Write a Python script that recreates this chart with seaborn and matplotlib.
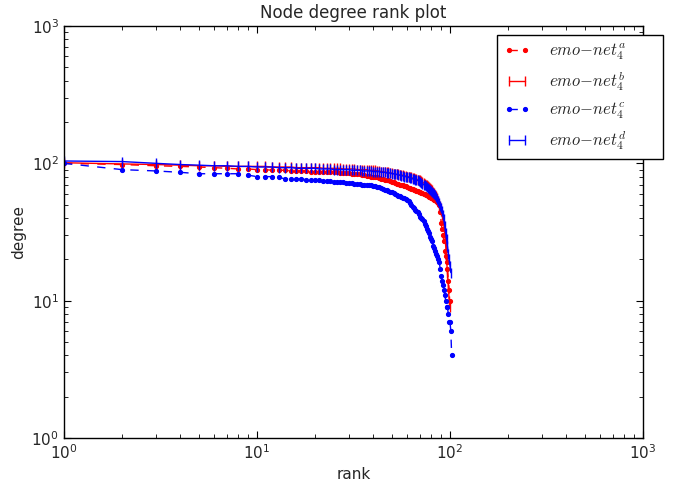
import numpy as np
import pandas as pd
import matplotlib
matplotlib.use("Agg")
import matplotlib.pyplot as plt
import seaborn as sns

# degree sequences sorted by rank
deg_a = [100, 98, 96, 95, 94, 93, 92, 91, 91, 90,
         90, 89, 89, 89, 88, 88, 88, 88, 87, 87,
         87, 87, 86, 86, 86, 86, 85, 85, 85, 85,
         84, 84, 83, 83, 82, 82, 81, 81, 80, 80, 79, 79, 78,
         77, 77, 76, 75, 75, 74, 73, 73, 72, 71, 71, 70,
         69, 69, 68, 68, 67, 66, 66, 65, 65, 64, 64, 63, 63, 62, 62,
         61, 61, 60, 60, 59, 59, 58, 57, 57, 56, 56,
         55, 54, 54, 53, 52, 51,
         50, 44, 37, 33, 30, 27, 23, 21, 19, 17, 14, 12, 10]
deg_b = [101, 99, 98, 97, 96, 96, 95, 95, 95, 95,
         95, 94, 94, 94, 94, 93, 93, 93, 93, 93,
         93, 92, 92, 92, 92, 92, 92, 91, 91, 91,
         91, 91, 90, 90, 90, 90, 90, 89, 89, 89, 89, 88, 88,
         87, 87, 86, 86, 86, 85, 85, 84, 84, 83, 83, 82,
         82, 82, 81, 81, 80, 80, 79, 79, 78, 78, 77, 77, 76, 76, 75,
         74, 73, 72, 71, 70, 69, 68, 67, 66, 65, 64,
         62, 61, 59, 58, 56, 53, 50,
         48, 45, 42, 39, 35, 30, 25, 20, 16, 13, 10, 9]
deg_c = [100, 90, 88, 86, 84, 84, 84, 84, 82, 80,
         80, 80, 79, 77, 77, 77, 77, 76, 75, 75,
         75, 74, 74, 74, 73, 73, 73, 73, 72, 72,
         72, 71, 71, 71, 70, 70, 70, 69, 69, 68, 68, 67, 67,
         66, 65, 64, 64, 63, 62, 62, 61, 60, 59, 58, 58,
         57, 56, 56, 55, 54, 53, 51, 50, 48, 47, 46, 45, 44, 43, 41,
         40, 39, 38, 36, 35, 33, 32, 31, 29, 28, 27,
         25, 24, 23, 22, 21, 20, 19,
         17, 15, 14, 13, 12, 11, 10, 9, 9, 8, 7, 7, 6, 4]
deg_d = [104, 103, 100, 98, 97, 96, 96, 95, 95, 94,
         94, 94, 93, 93, 93, 92, 92, 92, 92, 92,
         91, 91, 91, 91, 90, 90, 90, 90, 90, 90,
         89, 89, 89, 89, 88, 88, 88, 88, 88, 87, 87, 87, 87,
         86, 86, 86, 85, 85, 85, 84, 84, 83, 83, 82, 82,
         81, 81, 80, 80, 79, 79, 78, 78, 77, 77, 76, 76, 75, 74, 73,
         72, 71, 70, 69, 68, 67, 66, 65, 64, 63, 62,
         61, 60, 59, 57, 55, 53, 51,
         49, 47, 45, 42, 39, 35, 31, 28, 25, 22, 20, 18, 16]

labels = [r"$emo{-}net_4^a$", r"$emo{-}net_4^b$", r"$emo{-}net_4^c$", r"$emo{-}net_4^d$"]
series = [deg_a, deg_b, deg_c, deg_d]
colors = ["#ff0000", "#ff0000", "#0000ff", "#0000ff"]
lstyles = [(0, (6, 6)), "-", (0, (6, 6)), "-"]
markers = [".", "|", ".", "|"]
msizes = [5.5, 7, 5.5, 7]

sns.set_style("ticks", {"xtick.direction": "in", "ytick.direction": "in",
                        "axes.edgecolor": "black"})
plt.rcParams["mathtext.fontset"] = "cm"
plt.rcParams["font.family"] = ["DejaVu Sans"]

fig = plt.figure(figsize=(6.78, 4.83), dpi=100)
ax = fig.add_axes([64 / 678, 45 / 483, 579 / 678, 412 / 483])

handles = []
for deg, lab, col, ls, mk, ms in zip(series, labels, colors, lstyles, markers, msizes):
    df = pd.DataFrame({"rank": np.arange(1, len(deg) + 1), "degree": deg})
    sns.lineplot(data=df, x="rank", y="degree", ax=ax, color=col, linestyle=ls,
                 linewidth=1.0, marker=mk, markersize=ms, markeredgecolor=col,
                 markerfacecolor=col, markeredgewidth=1.0, sort=False,
                 estimator=None, label=lab, legend=False)
    handles.append(ax.get_lines()[-1])

ax.set_xscale("log")
ax.set_yscale("log")
ax.set_xlim(1, 1000)
ax.set_ylim(1, 1000)
ax.set_title("Node degree rank plot", fontsize=12)
ax.set_xlabel("rank", fontsize=11)
ax.set_ylabel("degree", fontsize=11)
ax.tick_params(which="both", top=True, right=True, direction="in", labelsize=11, color="black")
ax.tick_params(which="major", length=5, width=0.8)
ax.tick_params(which="minor", length=3, width=0.6)
for s in ax.spines.values():
    s.set_linewidth(1.0)
    s.set_color("black")

leg = ax.legend(handles=handles, labels=labels, loc="upper left",
                bbox_to_anchor=(0.748, 0.0, 0.287, 0.978), mode="expand",
                borderaxespad=0, numpoints=2,
                fontsize=12, frameon=True, fancybox=False, framealpha=1,
                edgecolor="black", handlelength=1.6, handletextpad=1.1,
                labelspacing=0.45, borderpad=0.4)
leg.get_frame().set_linewidth(1.0)

fig.savefig("out.png", dpi=100)
